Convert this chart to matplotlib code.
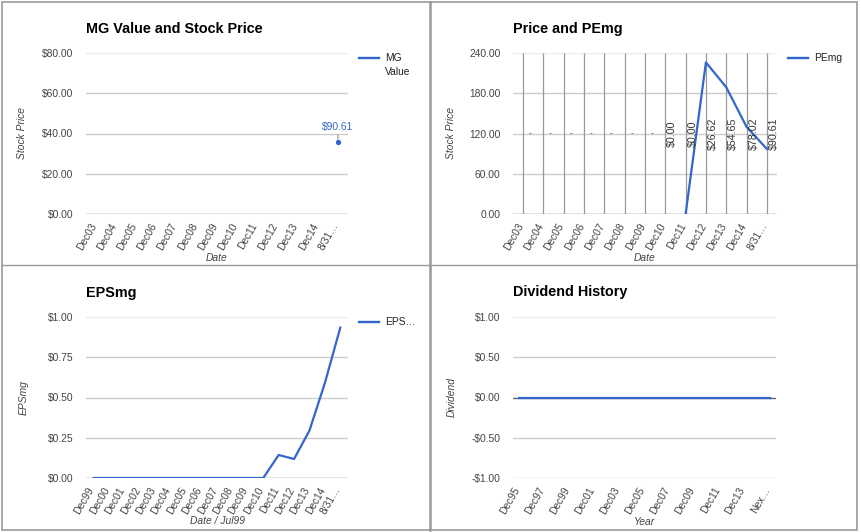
import numpy as np
import matplotlib
matplotlib.use("Agg")
import matplotlib.pyplot as plt
from matplotlib.lines import Line2D
from matplotlib.patches import Rectangle
import matplotlib.transforms as mtransforms

plt.rcParams['font.family'] = ['Liberation Sans', 'DejaVu Sans']

# ---------------- data ----------------
p1_categories = ['Dec03', 'Dec04', 'Dec05', 'Dec06', 'Dec07', 'Dec08', 'Dec09',
                 'Dec10', 'Dec11', 'Dec12', 'Dec13', 'Dec14', '8/31…']
mg_value = [np.nan] * 12 + [35.8]
mg_annotation = ['', '', '', '', '', '', '', '', '', '', '', '', '$90.61']
p1_yticks = [0, 20, 40, 60, 80]
p1_yticklabels = ['$0.00', '$20.00', '$40.00', '$60.00', '$80.00']

p2_categories = p1_categories
pemg = [np.nan] * 8 + [0.0, 226.0, 189.0, 130.0, 97.0]
price_annotation = ['-', '-', '-', '-', '-', '-', '-', '$0.00', '$0.00',
                    '$26.62', '$54.65', '$78.02', '$90.61']
p2_yticks = [0, 60, 120, 180, 240]
p2_yticklabels = ['0.00', '60.00', '120.00', '180.00', '240.00']

p3_categories = ['Dec99', 'Dec00', 'Dec01', 'Dec02', 'Dec03', 'Dec04', 'Dec05',
                 'Dec06', 'Dec07', 'Dec08', 'Dec09', 'Dec10', 'Dec11', 'Dec12',
                 'Dec13', 'Dec14', '8/31…']
epsmg = [0.0] * 12 + [0.143, 0.118, 0.295, 0.59, 0.934]
p3_yticks = [0, 0.25, 0.5, 0.75, 1.0]
p3_yticklabels = ['$0.00', '$0.25', '$0.50', '$0.75', '$1.00']

p4_categories = ['Dec95', 'Dec96', 'Dec97', 'Dec98', 'Dec99', 'Dec00', 'Dec01',
                 'Dec02', 'Dec03', 'Dec04', 'Dec05', 'Dec06', 'Dec07', 'Dec08',
                 'Dec09', 'Dec10', 'Dec11', 'Dec12', 'Dec13', 'Dec14', 'Nex…']
dividend = [0.0] * 21
p4_yticks = [-1.0, -0.5, 0.0, 0.5, 1.0]
p4_yticklabels = ['-$1.00', '-$0.50', '$0.00', '$0.50', '$1.00']

# ---------------- style ----------------
W, H = 862, 532
BLUE = '#3366cc'
GRID = '#cccccc'
TXT = '#444444'
FS = 7.4

fig = plt.figure(figsize=(W / 100, H / 100), dpi=100)
fig.patch.set_facecolor('white')


def fx(x):
    return x / W


def fy(y):
    return 1 - y / H


def px_axes(x0, y0, x1, y1):
    return fig.add_axes([fx(x0), fy(y1), (x1 - x0) / W, (y1 - y0) / H])


def style_axes(ax, cats, yticks, ylabels, ylim, label_step=1, baseline=0):
    n = len(cats)
    ax.set_xlim(-0.5, n - 0.5)
    ax.set_ylim(*ylim)
    for s in ax.spines.values():
        s.set_visible(False)
    ax.set_yticks(yticks)
    ax.set_yticklabels(ylabels, fontsize=FS, color=TXT)
    ax.tick_params(axis='y', length=0, pad=9)
    for t in yticks:
        c = '#ebebeb' if t == yticks[-1] else GRID
        if t != baseline:
            ax.axhline(t, color=c, lw=1.0, zorder=0)
    ax.axhline(baseline, color='#666666', lw=1.0, zorder=1)
    idx = list(range(0, n, label_step))
    ax.set_xticks(idx)
    ax.set_xticklabels([cats[i] for i in idx], fontsize=FS, color=TXT,
                       rotation=60, ha='right', va='center',
                       rotation_mode='anchor')
    ax.tick_params(axis='x', length=0, pad=7)
    shift = mtransforms.ScaledTranslation(-2 / 100, 0, fig.dpi_scale_trans)
    for lab in ax.get_xticklabels():
        lab.set_transform(lab.get_transform() + shift)


def title(x, y, s):
    fig.text(fx(x), fy(y), s, fontsize=10.4, fontweight='bold', color='#000000',
             ha='left', va='center')


def axis_title(x, y, s, rot=0):
    fig.text(fx(x), fy(y), s, fontsize=FS, style='italic', color=TXT,
             ha='center', va='center', rotation=rot)


def legend(x0, y, lines):
    fig.add_artist(Line2D([fx(x0), fx(x0 + 20)], [fy(y), fy(y)], color=BLUE,
                          lw=1.7, transform=fig.transFigure))
    for k, s in enumerate(lines):
        fig.text(fx(x0 + 26), fy(y + 14 * k), s, fontsize=FS, color='#222222',
                 ha='left', va='center')


# ---------------- panel 1 ----------------
ax1 = px_axes(86, 53, 348, 214)
style_axes(ax1, p1_categories, p1_yticks, p1_yticklabels, (0, 80))
x1 = np.arange(len(p1_categories))
ax1.plot(x1, mg_value, color=BLUE, lw=1.6, zorder=3)
ax1.plot(x1, mg_value, 'o', color=BLUE, ms=2.8, zorder=3)
for i, lab in enumerate(mg_annotation):
    if lab:
        ax1.annotate(lab, xy=(x1[i], mg_value[i]), xytext=(0, 7),
                     textcoords='offset points', ha='center', va='bottom',
                     fontsize=FS, color=BLUE,
                     arrowprops=dict(arrowstyle='-', color='#777777', lw=0.7,
                                     shrinkA=0, shrinkB=2))
title(86, 29, 'MG Value and Stock Price')
axis_title(22, 133, 'Stock Price', 90)
axis_title(217, 258, 'Date')
legend(359, 58, ['MG', 'Value'])

# ---------------- panel 2 ----------------
ax2 = px_axes(513, 53, 777, 214)
style_axes(ax2, p2_categories, p2_yticks, p2_yticklabels, (0, 240))
x2 = np.arange(len(p2_categories))
ax2.vlines(x2, 0, 240, color='#999999', lw=0.9, zorder=1)
ax2.plot(x2, pemg, color=BLUE, lw=1.6, zorder=3)
off = mtransforms.offset_copy(ax2.transData, fig=fig, x=7, y=0, units='dots')
for i, lab in enumerate(price_annotation):
    if lab == '-':
        ax2.text(x2[i], 120, '-', transform=off, fontsize=6, color='#333333',
                 ha='center', va='center', zorder=4)
    else:
        ax2.text(x2[i], 120, lab, transform=off, fontsize=7.7, color='#333333',
                 ha='center', va='center', rotation=90, zorder=4)
title(513, 29, 'Price and PEmg')
axis_title(451, 133, 'Stock Price', 90)
axis_title(645, 258, 'Date')
legend(788, 58, ['PEmg'])

# ---------------- panel 3 ----------------
ax3 = px_axes(86, 317, 348, 478)
style_axes(ax3, p3_categories, p3_yticks, p3_yticklabels, (0, 1.0))
x3 = np.arange(len(p3_categories))
ax3.plot(x3, epsmg, color=BLUE, lw=1.6, zorder=3)
title(86, 293, 'EPSmg')
axis_title(24, 398, 'EPSmg', 90)
axis_title(217, 521, 'Date / Jul99')
legend(359, 322, ['EPS…'])

# ---------------- panel 4 ----------------
ax4 = px_axes(513, 317, 776, 478)
style_axes(ax4, p4_categories, p4_yticks, p4_yticklabels, (-1.0, 1.0),
           label_step=2, baseline=0.0)
x4 = np.arange(len(p4_categories))
ax4.plot(x4, dividend, color=BLUE, lw=1.6, zorder=3)
title(513, 292, 'Dividend History')
axis_title(452, 397, 'Dividend', 90)
axis_title(645, 522, 'Year')

# ---------------- panel borders ----------------
BORDER = '#999999'
fig.add_artist(Rectangle((fx(2), fy(530)), (857 - 2) / W, (530 - 2) / H,
                         fill=False, edgecolor=BORDER, lw=1.2,
                         transform=fig.transFigure))
fig.add_artist(Line2D([fx(430), fx(430)], [fy(2), fy(530)], color=BORDER,
                      lw=1.8, transform=fig.transFigure))
fig.add_artist(Line2D([fx(2), fx(857)], [fy(265), fy(265)], color=BORDER,
                      lw=1.0, transform=fig.transFigure))

fig.savefig('out.png', dpi=100, facecolor='white')
